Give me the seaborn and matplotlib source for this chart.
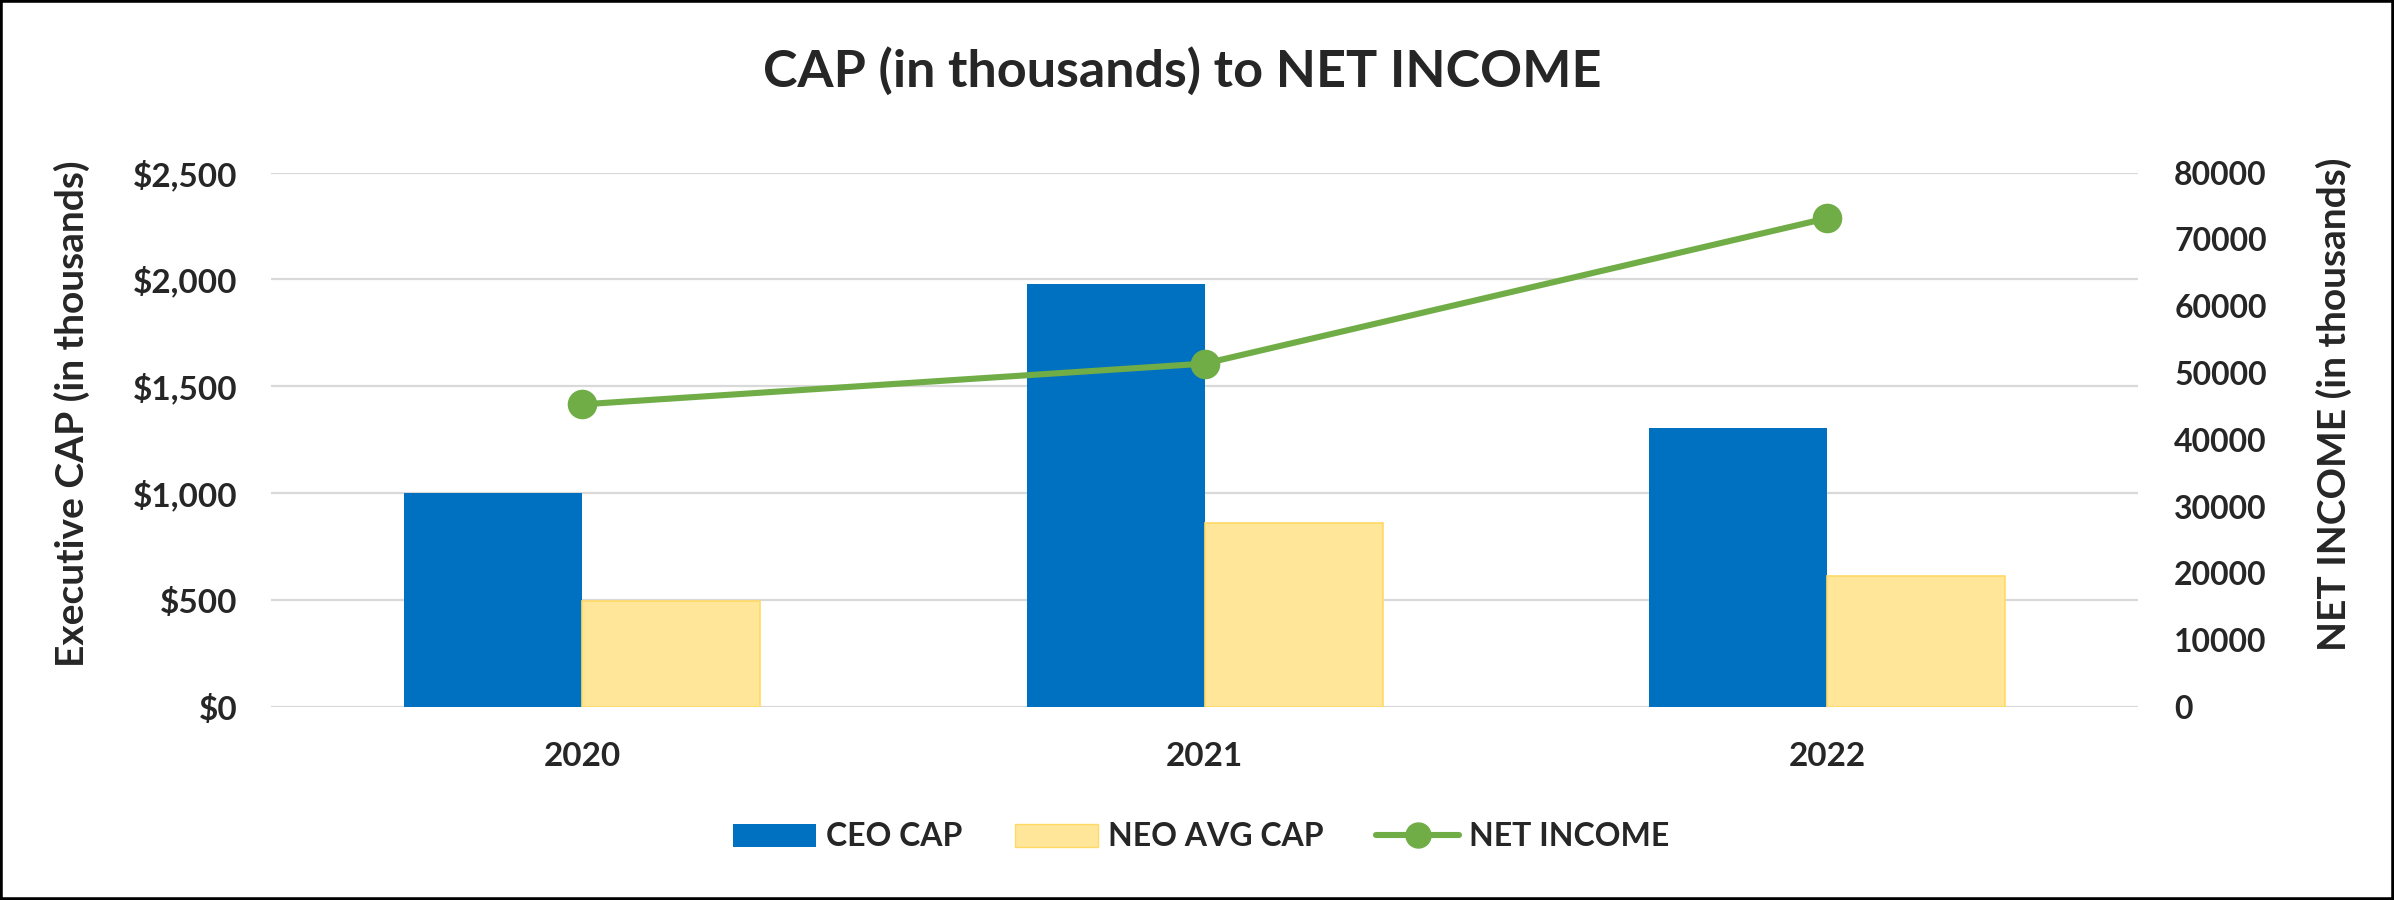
import matplotlib
matplotlib.use("Agg")
import matplotlib.pyplot as plt
import matplotlib.ticker as mticker
from matplotlib.patches import Patch, Rectangle
from matplotlib.lines import Line2D
import seaborn as sns
import pandas as pd

# ---- data ----
years = ["2020", "2021", "2022"]
ceo_cap = [1000, 1980, 1307]          # $ thousands
neo_avg_cap = [495, 862, 612]         # $ thousands
net_income = [45300, 51400, 73150]    # thousands
series_names = ["CEO CAP", "NEO AVG CAP", "NET INCOME"]
left_ticks = [0, 500, 1000, 1500, 2000, 2500]
right_ticks = [0, 10000, 20000, 30000, 40000, 50000, 60000, 70000, 80000]

title = "CAP (in thousands) to NET INCOME"
left_label = "Executive CAP (in thousands)"
right_label = "NET INCOME (in thousands)"

# ---- styling ----
BLUE = "#0070C0"
YELLOW = "#FFE699"
YELLOW_EDGE = "#FFD966"
GREEN = "#70AD47"
GRID = "#D9D9D9"

sns.set_style("white")
plt.rcParams["font.family"] = ["Lato", "DejaVu Sans"]
plt.rcParams["font.weight"] = "bold"

bars_df = pd.DataFrame({
    "year": years * 2,
    "series": [series_names[0]] * 3 + [series_names[1]] * 3,
    "value": ceo_cap + neo_avg_cap,
})
line_df = pd.DataFrame({"year": years, "net_income": net_income})

fig = plt.figure(figsize=(23.94, 9.0), dpi=100)
ax = fig.add_axes([0.1132, 0.2144, 0.7799, 0.5939])

sns.barplot(data=bars_df, x="year", y="value", hue="series",
            palette={series_names[0]: BLUE, series_names[1]: YELLOW},
            width=0.572, gap=0, saturation=1, legend=False, ax=ax, zorder=2)
for p in ax.patches:
    fc = p.get_facecolor()
    if abs(fc[0] - 1.0) < 0.01:
        p.set_edgecolor(YELLOW_EDGE)
        p.set_linewidth(1.2)
    else:
        p.set_edgecolor("none")

ax.set_ylim(0, 2500)
ax.set_yticks(left_ticks)
ax.yaxis.set_major_formatter(mticker.FuncFormatter(lambda v, _: f"${v:,.0f}"))
ax.grid(axis="y", color=GRID, linewidth=1.6, zorder=0)
ax.grid(axis="x", visible=False)
ax.set_axisbelow(True)
for s in ax.spines.values():
    s.set_visible(False)
ax.tick_params(axis="y", length=0, pad=24, labelsize=24)
ax.tick_params(axis="x", length=0, pad=25, labelsize=24)
for lab in ax.get_xticklabels() + ax.get_yticklabels():
    lab.set_fontweight("bold")
ax.set_xlabel("")
ax.set_ylabel(left_label, fontsize=28, fontweight="bold")
ax.yaxis.set_label_coords(-0.097, 0.548)

ax2 = ax.twinx()
sns.pointplot(data=line_df, x="year", y="net_income", color=GREEN,
              markers="o", markersize=18, linewidth=4.4, errorbar=None,
              ax=ax2)
ax2.set_ylim(0, 80000)
ax2.set_yticks(right_ticks)
ax2.yaxis.set_major_formatter(mticker.FuncFormatter(lambda v, _: f"{v:.0f}"))
for s in ax2.spines.values():
    s.set_visible(False)
ax2.grid(False)
ax2.tick_params(axis="y", length=0, pad=26, labelsize=23)
for lab in ax2.get_yticklabels():
    lab.set_fontweight("bold")
ax2.set_xlabel("")
ax2.set_ylabel(right_label, fontsize=28, fontweight="bold")
ax2.yaxis.set_label_coords(1.095, 0.567)
ax.set_xlim(-0.5, 2.5)

fig.text(0.4937, 1 - 87 / 900, title, ha="center", va="baseline",
         fontsize=37.5, fontweight="bold")

handles = [
    Patch(facecolor=BLUE, edgecolor="none", label=series_names[0]),
    Patch(facecolor=YELLOW, edgecolor=YELLOW_EDGE, label=series_names[1]),
    Line2D([0], [0], color=GREEN, linewidth=4.4, marker="o", markersize=18,
           label=series_names[2]),
]
fig.legend(handles=handles, loc="center", bbox_to_anchor=(0.5017, 0.07),
           ncol=3, frameon=False, fontsize=23, handlelength=2.6,
           handleheight=0.75, handletextpad=0.3, columnspacing=1.65)

fig.add_artist(Rectangle((0, 0), 1, 1, transform=fig.transFigure,
                         fill=False, edgecolor="black", linewidth=4))

fig.savefig("out.png", dpi=100)
